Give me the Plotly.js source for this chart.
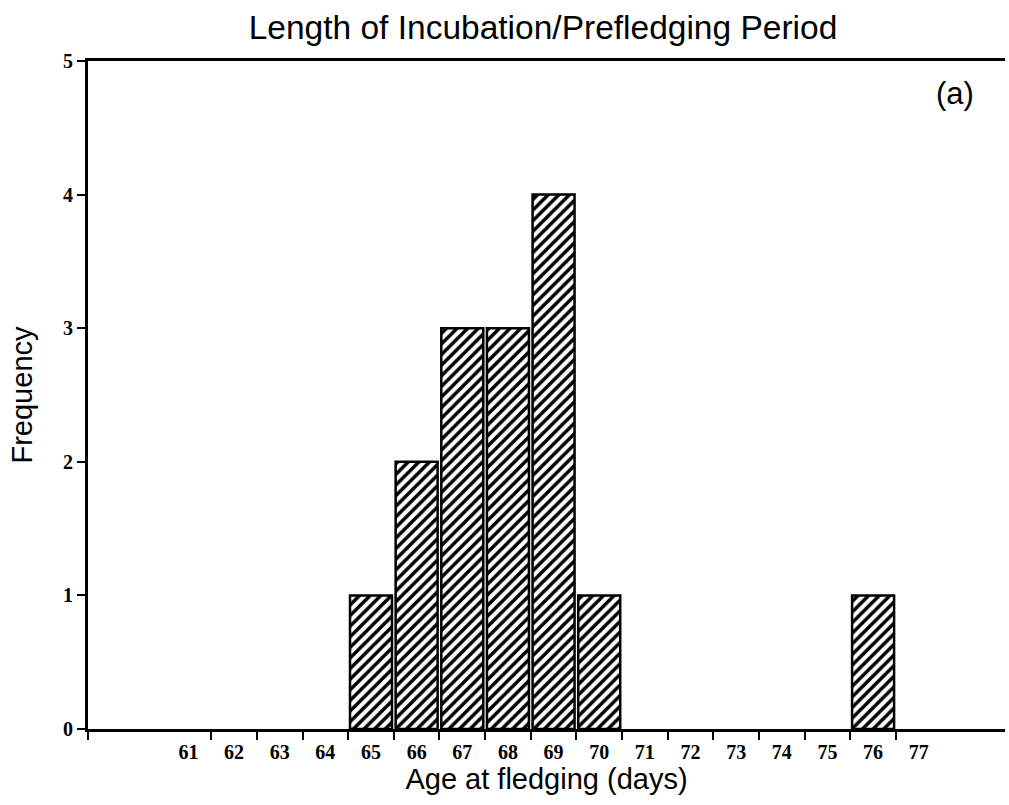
<!DOCTYPE html>
<html>
<head>
<meta charset="utf-8">
<script src="https://cdn.plot.ly/plotly-3.0.1.min.js"></script>
<style>html,body{margin:0;padding:0;background:#fff;}#chart{width:1009px;height:805px;}</style>
</head>
<body>
<div id="chart"></div>
<script>
// Data
var days = [61, 62, 63, 64, 65, 66, 67, 68, 69, 70, 71, 72, 73, 74, 75, 76, 77];
var frequency = [0, 0, 0, 0, 1, 2, 3, 3, 4, 1, 0, 0, 0, 0, 0, 1, 0];
var dayLabels = ["61","62","63","64","65","66","67","68","69","70","71","72","73","74","75","76","77"];
var yTicks = [0, 1, 2, 3, 4, 5];

var xRange = [58.8, 78.89];
var binEdges = [xRange[0]];
for (var i = 0; i < days.length - 1; i++) binEdges.push((days[i] + days[i + 1]) / 2);

// empty bins draw nothing in the reference
var barX = [], barY = [];
for (var j = 0; j < days.length; j++) {
  if (frequency[j] > 0) { barX.push(days[j]); barY.push(frequency[j]); }
}

var trace = {
  type: 'bar',
  x: barX,
  y: barY,
  width: 0.92,
  marker: {
    color: 'white',
    line: {color: 'black', width: 2.5},
    pattern: {shape: '/', size: 7.5, solidity: 0.47, fgcolor: 'black', bgcolor: 'white'}
  },
  hoverinfo: 'x+y'
};

var sans = 'Liberation Sans, Arial, Helvetica, sans-serif';
var tickFont = {family: 'Liberation Serif', size: 20, color: 'black', weight: 700};

var layout = {
  width: 1009, height: 805,
  margin: {l: 88, r: 4, t: 61, b: 76},
  paper_bgcolor: 'white', plot_bgcolor: 'white',
  showlegend: false,
  bargap: 0,
  title: {
    text: 'Length of Incubation/Prefledging Period',
    font: {family: sans, size: 33.5, color: 'black'},
    x: 543 / 1009, xanchor: 'center', xref: 'container',
    y: 1 - 27 / 805, yanchor: 'middle', yref: 'container'
  },
  xaxis: {
    range: xRange,
    tickmode: 'array', tickvals: days, ticktext: dayLabels,
    ticks: 'outside', ticklen: 3, tickcolor: 'rgba(0,0,0,0)',
    tickfont: tickFont,
    showgrid: false, zeroline: false,
    showline: true, linecolor: 'black', linewidth: 3, mirror: true,
    minor: {tickmode: 'array', tickvals: binEdges, ticks: 'outside', ticklen: 8, tickwidth: 2, tickcolor: 'black', showgrid: false},
    title: {text: 'Age at fledging (days)', font: {family: sans, size: 29, color: 'black'}, standoff: 2},
    automargin: false, fixedrange: true
  },
  yaxis: {
    range: [0, 5],
    tickmode: 'array', tickvals: yTicks,
    ticks: 'outside', ticklen: 8, tickwidth: 2, tickcolor: 'black',
    tickfont: tickFont,
    showgrid: false, zeroline: false,
    showline: true, linecolor: 'black', linewidth: 3, mirror: false,
    title: {text: 'Frequency', font: {family: sans, size: 29, color: 'black'}, standoff: 22},
    automargin: false, fixedrange: true
  },
  annotations: [{
    text: '(a)', xref: 'paper', yref: 'paper',
    x: 0.946, y: 0.952, xanchor: 'center', yanchor: 'middle',
    showarrow: false, font: {family: sans, size: 31, color: 'black'}
  }]
};

Plotly.newPlot('chart', [trace], layout, {displayModeBar: false, staticPlot: true});
</script>
</body>
</html>
